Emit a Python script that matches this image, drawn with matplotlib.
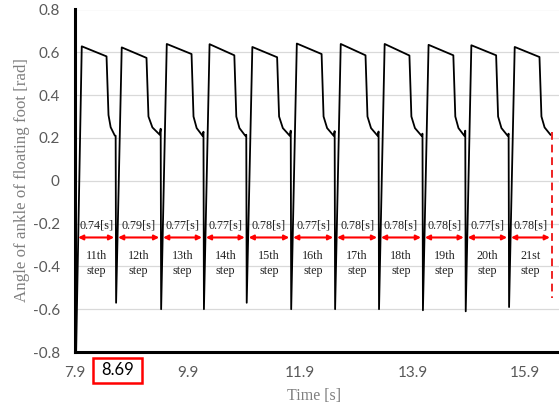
import numpy as np
import matplotlib.pyplot as plt
from matplotlib.patches import Rectangle
import matplotlib.transforms as mtransforms

# drop instants of the ankle angle (start of each step) [s]
drop_times = [7.92, 8.63, 9.43, 10.19, 10.95, 11.74, 12.52, 13.30, 14.08, 14.84, 15.61, 16.37]
# lowest value reached at each drop [rad]
drop_mins = [-0.80, -0.57, -0.60, -0.60, -0.57, -0.60, -0.60, -0.60, -0.605, -0.61, -0.59]
# value right before each drop (small hook) [rad]
drop_tops = [0.21, 0.243, 0.229, 0.215, 0.234, 0.232, 0.23, 0.22, 0.234, 0.22]
# per-step plateau values [rad]
peaks = [0.628, 0.623, 0.639, 0.638, 0.625, 0.641, 0.639, 0.639, 0.635, 0.633, 0.625]
shoulders = [0.581, 0.574, 0.592, 0.586, 0.577, 0.592, 0.586, 0.585, 0.586, 0.586, 0.578]
knees = [0.307, 0.30, 0.30, 0.30, 0.30, 0.30, 0.30, 0.30, 0.30, 0.30, 0.30]
tails = [0.212, 0.215, 0.21, 0.21, 0.21, 0.21, 0.21, 0.21, 0.21, 0.21, 0.215]

step_durations = ['0.74[s]', '0.79[s]', '0.77[s]', '0.77[s]', '0.78[s]', '0.77[s]',
                  '0.78[s]', '0.78[s]', '0.78[s]', '0.77[s]', '0.78[s]']
step_names = ['11th', '12th', '13th', '14th', '15th', '16th', '17th', '18th', '19th', '20th', '21st']

# dashed end marker of the last step
end_marker = (0.23, -0.55)

# build the angle trace
t, y = [], []
n_steps = len(peaks)
for i in range(n_steps):
    d0, d1 = drop_times[i], drop_times[i + 1]
    t += [d0, d0 + 0.10, d0 + 0.54, d0 + 0.575]
    y += [drop_mins[i], peaks[i], shoulders[i], knees[i]]
    tk, tt = d0 + 0.575, d1 - 0.025
    t += [tk + 0.35 * (tt - tk), tt]
    y += [knees[i] - 0.6 * (knees[i] - tails[i]), tails[i]]
    if i < n_steps - 1:
        t.append(d1 - 0.008)
        y.append(drop_tops[i])

fig = plt.figure(figsize=(5.59, 4.12), dpi=100)
ax = fig.add_axes([75 / 559, 1 - 352 / 412, 484 / 559, 342.5 / 412])

ax.plot(t, y, color='black', lw=1.3, zorder=3)

ax.set_xlim(7.9, 7.9 + 484 / 56.3)
ax.set_ylim(-0.8, 0.8)

yt = np.round(np.arange(-0.8, 0.81, 0.2), 1)
ax.set_yticks(yt)
ax.set_yticklabels(['0' if v == 0 else f'{v:.1f}' for v in yt])
ax.set_xticks([7.9, 9.9, 11.9, 13.9, 15.9])
ax.set_xticklabels(['7.9', '9.9', '11.9', '13.9', '15.9'])
ax.tick_params(length=0, labelsize=11, labelcolor='#595959')
ax.tick_params(axis='y', pad=11)
ax.tick_params(axis='x', pad=10)
for lab in ax.get_xticklabels() + ax.get_yticklabels():
    lab.set_fontfamily('Lato')

for v in yt[1:]:
    ax.axhline(v, color='#d9d9d9', lw=0.9, zorder=0)

for s in ['top', 'right']:
    ax.spines[s].set_visible(False)
for s in ['left', 'bottom']:
    ax.spines[s].set_linewidth(2.2)
    ax.spines[s].set_color('black')
ax.spines['bottom'].set_bounds(7.9, 7.9 + 490 / 56.3)

# step annotations
gap = 0.035
for i in range(n_steps):
    a, b = drop_times[i] + gap, drop_times[i + 1] - gap
    mid = (drop_times[i] + drop_times[i + 1]) / 2
    ax.annotate('', xy=(a, -0.265), xytext=(b, -0.265),
                arrowprops=dict(arrowstyle='<|-|>', color='#ff0000', lw=1.5,
                                mutation_scale=7, shrinkA=0, shrinkB=0))
    ax.text(mid, -0.21, step_durations[i], ha='center', va='center',
            family='Liberation Serif', fontsize=8.7, color='#222222')
    ax.text(mid, -0.385, f'{step_names[i]}\nstep', ha='center', va='center',
            family='Liberation Serif', fontsize=8.7, color='#222222', linespacing=1.3)

ax.plot([drop_times[-1], drop_times[-1]], end_marker, color='#ee2222', lw=1.4,
        ls=(0, (4, 2.5)), zorder=3, clip_on=False)

# highlighted start time below the axis
trans = mtransforms.blended_transform_factory(ax.transData, ax.transAxes)
box_x = 8.655
ax.add_patch(Rectangle((box_x - 0.435, -0.0905), 0.87, 0.073, transform=trans,
                       fill=False, edgecolor='#ff0000', lw=1.8, clip_on=False))
ax.text(box_x, -0.054, '8.69', transform=trans, ha='center', va='center',
        family='Lato', fontsize=12, color='black')

fig.text(22 / 559, 1 - 180 / 412, 'Angle of ankle of floating foot [rad]', rotation=90,
         ha='center', va='center', family='Liberation Serif', fontsize=12.2, color='#7f7f7f')
fig.text(314 / 559, 1 - 396 / 412, 'Time [s]', ha='center', va='center',
         family='Liberation Serif', fontsize=11.5, color='#7f7f7f')

fig.savefig('out.png', dpi=100)
